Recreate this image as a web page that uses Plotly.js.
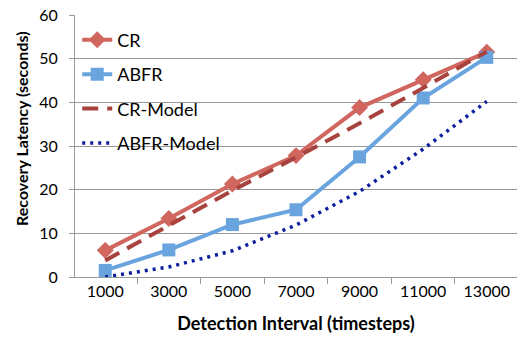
<!DOCTYPE html>
<html><head><meta charset="utf-8">
<script src="https://cdn.plot.ly/plotly-3.0.1.min.js"></script>
<style>html,body{margin:0;padding:0;background:#fff}#c{width:524px;height:343px}</style>
</head><body><div id="c"></div>
<script>
const categories = ["1000","3000","5000","7000","9000","11000","13000"];
const cr = [6.1, 13.4, 21.3, 27.8, 38.8, 45.2, 51.5];
const abfr = [1.5, 6.2, 12.0, 15.4, 27.5, 41.0, 50.3];
const crModel = [3.8, 11.8, 19.8, 27.4, 35.2, 43.3, 51.6];
const abfrModel = [0, 2.3, 6.0, 11.9, 19.6, 29.3, 40.2];

const font = "Lato, Open Sans, sans-serif";
const traces = [
  {x: categories, y: cr, name: "CR", mode: "lines+markers", legendgroup: "a",
   line: {color: "#D0665E", width: 4}, marker: {symbol: "diamond", size: 13, color: "#D0665E"}},
  {x: categories, y: abfr, name: "ABFR", mode: "lines+markers", legendgroup: "b",
   line: {color: "#6AA4DF", width: 4}, marker: {symbol: "square", size: 13, color: "#6AA4DF"}},
  {x: categories, y: crModel, name: "CR-Model", mode: "lines", legendgroup: "c",
   line: {color: "#A8423E", width: 4, dash: "16px,9px"}},
  {x: categories, y: abfrModel, name: "ABFR-Model", mode: "lines", legendgroup: "d",
   line: {color: "#0A1E9E", width: 3.5, dash: "3px,5px"}}
];
const layout = {
  width: 524, height: 343,
  margin: {l: 75, r: 7, t: 15, b: 66},
  paper_bgcolor: "#fff", plot_bgcolor: "#fff",
  font: {family: font, size: 16, color: "#000"},
  showlegend: true,
  legend: {x: 0.005, y: 0.975, xanchor: "left", yanchor: "top", bgcolor: "rgba(0,0,0,0)",
    traceorder: "grouped", tracegroupgap: 8, font: {family: font, size: 18, color: "#000"}},
  xaxis: {type: "category", tickson: "boundaries", ticks: "outside", ticklen: 6, tickcolor: "#999",
    showline: true, linecolor: "#999", linewidth: 1, showgrid: false, zeroline: false,
    tickfont: {family: font, size: 16}, 
    title: {text: "<b>Detection Interval (timesteps)</b>", font: {family: font, size: 18}, standoff: 18}},
  yaxis: {range: [0, 60], dtick: 10, ticks: "outside", ticklen: 5, tickcolor: "#999",
    showline: true, linecolor: "#999", linewidth: 1, showgrid: true, gridcolor: "#999",
    zeroline: false, tickfont: {family: font, size: 16}, ticklabelstandoff: 8},
  annotations: [{xref: "paper", yref: "paper", x: -0.12, y: 0.565, xanchor: "center", yanchor: "middle",
    textangle: -90, showarrow: false, text: "<b>Recovery Latency (seconds)</b>",
    font: {family: font, size: 16, color: "#000"}}]
};
Plotly.newPlot("c", traces, layout, {displayModeBar: false, staticPlot: true});
</script></body></html>
